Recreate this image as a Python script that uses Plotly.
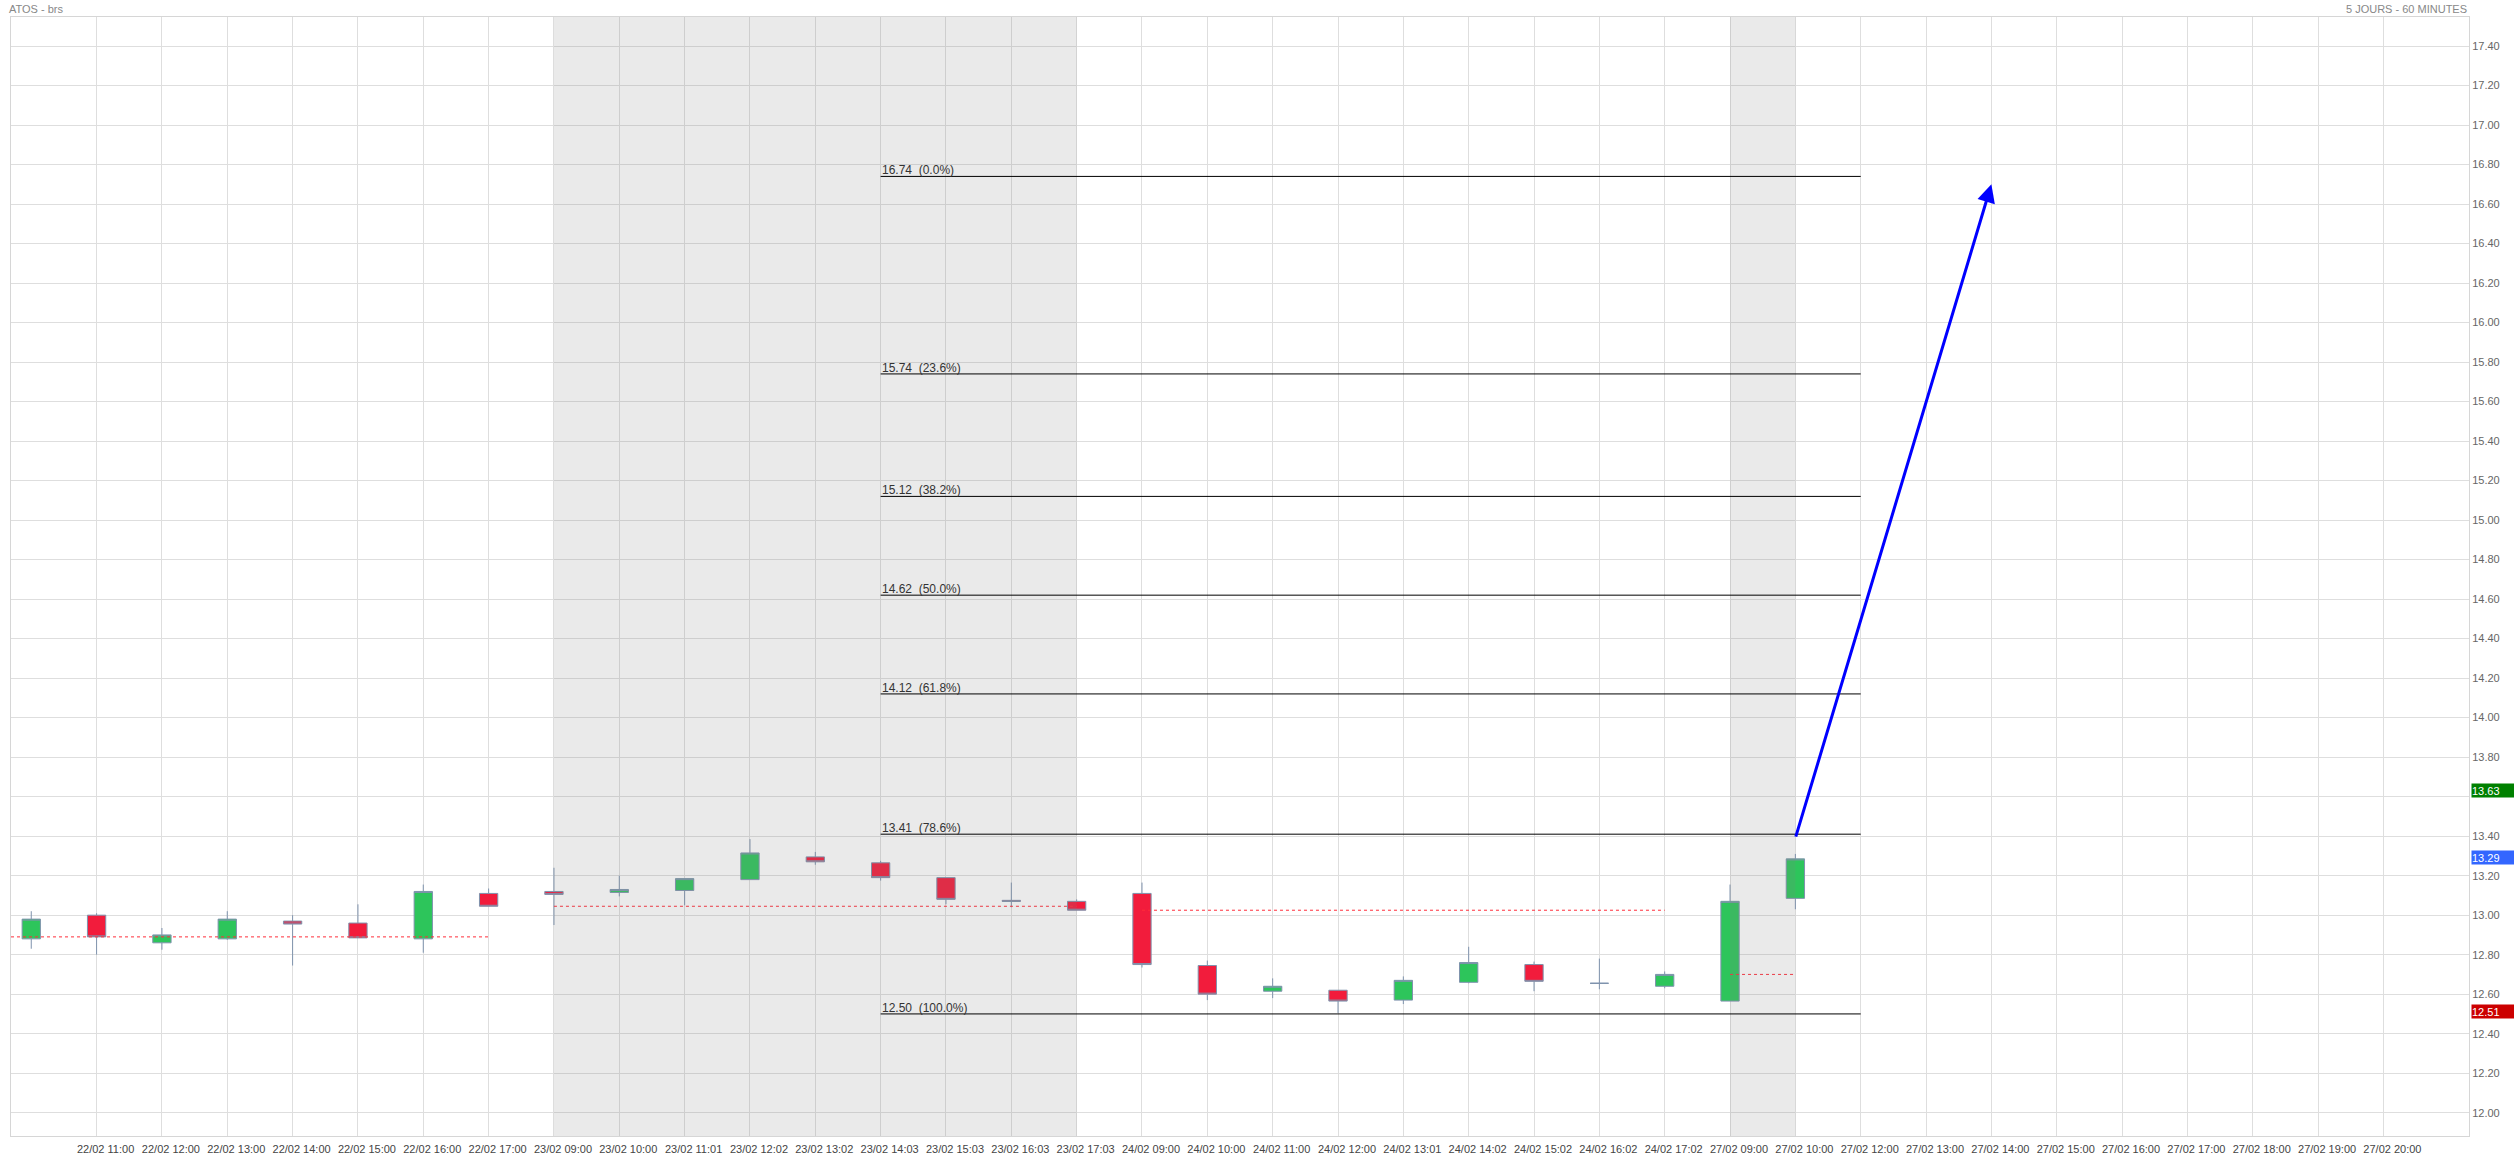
import plotly.graph_objects as go

# ---------------- data ----------------
times = [
    "22/02 10:00", "22/02 11:00", "22/02 12:00", "22/02 13:00", "22/02 14:00", "22/02 15:00",
    "22/02 16:00", "22/02 17:00", "23/02 09:00", "23/02 10:00", "23/02 11:01", "23/02 12:02",
    "23/02 13:02", "23/02 14:03", "23/02 15:03", "23/02 16:03", "23/02 17:03", "24/02 09:00",
    "24/02 10:00", "24/02 11:00", "24/02 12:00", "24/02 13:01", "24/02 14:02", "24/02 15:02",
    "24/02 16:02", "24/02 17:02", "27/02 09:00", "27/02 10:00", "27/02 12:00", "27/02 13:00",
    "27/02 14:00", "27/02 15:00", "27/02 16:00", "27/02 17:00", "27/02 18:00", "27/02 19:00",
    "27/02 20:00",
]
shown_ticks = times[1:]

opens = [12.88, 13.00, 12.86, 12.88, 12.97, 12.96, 12.88, 13.11, 13.12, 13.115, 13.125, 13.18,
         13.295, 13.265, 13.19, 13.075, 13.07, 13.11, 12.745, 12.615, 12.62, 12.57, 12.66, 12.75,
         12.655, 12.64, 12.565, 13.085]
highs = [13.02, 13.01, 12.935, 13.02, 13.00, 13.055, 13.155, 13.135, 13.24, 13.20, 13.185, 13.385,
         13.32, 13.275, 13.19, 13.165, 13.08, 13.165, 12.77, 12.68, 12.62, 12.69, 12.84, 12.765,
         12.78, 12.715, 13.155, 13.31]
lows = [12.83, 12.80, 12.825, 12.875, 12.745, 12.885, 12.81, 13.045, 12.95, 13.095, 13.05, 13.18,
        13.255, 13.175, 13.055, 13.04, 13.025, 12.735, 12.57, 12.58, 12.505, 12.55, 12.655, 12.615,
        12.625, 12.63, 12.565, 13.03]
closes = [12.98, 12.89, 12.90, 12.98, 12.955, 12.885, 13.12, 13.045, 13.105, 13.13, 13.185, 13.315,
          13.27, 13.19, 13.08, 13.07, 13.025, 12.75, 12.60, 12.64, 12.565, 12.67, 12.76, 12.665,
          12.655, 12.70, 13.07, 13.285]

# y-axis ticks (13.60 is hidden behind the 13.63 price tag in the reference)
y_ticks = [12.00, 12.20, 12.40, 12.60, 12.80, 13.00, 13.20, 13.40, 13.60, 13.80, 14.00, 14.20,
           14.40, 14.60, 14.80, 15.00, 15.20, 15.40, 15.60, 15.80, 16.00, 16.20, 16.40, 16.60,
           16.80, 17.00, 17.20, 17.40]
y_tick_text = ["12.00", "12.20", "12.40", "12.60", "12.80", "13.00", "13.20", "13.40", "",
               "13.80", "14.00", "14.20", "14.40", "14.60", "14.80", "15.00", "15.20", "15.40",
               "15.60", "15.80", "16.00", "16.20", "16.40", "16.60", "16.80", "17.00", "17.20",
               "17.40"]

# previous-session reference lines (dashed red)
ref_values = [12.89, 13.045, 13.025, 12.70]
ref_starts = [None, "23/02 09:00", "24/02 09:00", "27/02 09:00"]
ref_ends = ["22/02 17:00", "23/02 17:03", "24/02 17:02", "27/02 10:00"]

# shaded sessions
shade_starts = ["23/02 09:00", "27/02 09:00"]
shade_ends = ["23/02 17:03", "27/02 10:00"]

# Fibonacci retracement
fib_levels = [16.74, 15.74, 15.12, 14.62, 14.12, 13.41, 12.50]
fib_pcts = ["0.0%", "23.6%", "38.2%", "50.0%", "61.8%", "78.6%", "100.0%"]
fib_from = "23/02 14:03"
fib_to = "27/02 12:00"

# target arrow
arrow_from = ("27/02 10:00", 13.39)
arrow_to = ("27/02 14:00", 16.70)

# right-side price tags
tag_values = [13.63, 13.29, 12.51]
tag_colors = ["#008000", "#3366ff", "#cc0000"]

title_left = "ATOS - brs"
title_right = "5 JOURS - 60 MINUTES"

X_RANGE = [-0.31, 37.31]
Y_RANGE = [11.882, 17.547]

# ---------------- figure ----------------
pos = {t: i for i, t in enumerate(times)}
cx = [pos[t] for t in times[:len(opens)]]

FONT = "Liberation Sans, Arial, sans-serif"

fig = go.Figure()
fig.add_trace(go.Candlestick(
    x=cx, open=opens, high=highs, low=lows, close=closes,
    increasing=dict(fillcolor="#2dc55b", line=dict(color="#7f93ad", width=1)),
    decreasing=dict(fillcolor="#f21c3c", line=dict(color="#7f93ad", width=1)),
    whiskerwidth=0, showlegend=False, hoverinfo="skip",
))

for val, s, e in zip(ref_values, ref_starts, ref_ends):
    x0 = X_RANGE[0] if s is None else pos[s]
    fig.add_trace(go.Scatter(
        x=[x0, pos[e]], y=[val, val], mode="lines",
        line=dict(color="#ff2d3a", width=1, dash="3px,3px"),
        hoverinfo="skip", showlegend=False,
    ))

shapes = []
for s, e in zip(shade_starts, shade_ends):
    shapes.append(dict(type="rect", xref="x", yref="paper", x0=pos[s], x1=pos[e], y0=0, y1=1,
                       fillcolor="rgba(128,128,128,0.17)", line=dict(width=0), layer="above"))
for lv in fib_levels:
    shapes.append(dict(type="line", xref="x", yref="y", x0=pos[fib_from], x1=pos[fib_to],
                       y0=lv, y1=lv, line=dict(color="#000000", width=1), layer="above"))

annotations = []
for lv, pc in zip(fib_levels, fib_pcts):
    annotations.append(dict(
        x=pos[fib_from], y=lv, xref="x", yref="y", xanchor="left", yanchor="bottom",
        text=f"{lv:.2f}\u00a0 ({pc})", showarrow=False, borderpad=0, yshift=-2,
        font=dict(family=FONT, size=12, color="#333333"),
    ))

annotations.append(dict(
    x=pos[arrow_to[0]], y=arrow_to[1], ax=pos[arrow_from[0]], ay=arrow_from[1],
    xref="x", yref="y", axref="x", ayref="y", showarrow=True, text="",
    arrowhead=2, arrowsize=1.2, arrowwidth=3, arrowcolor="#0000ff",
))

for v, c in zip(tag_values, tag_colors):
    annotations.append(dict(
        x=1, y=v, xref="paper", yref="y", xanchor="left", yanchor="middle", xshift=2,
        text=f"{v:.2f}", showarrow=False, bgcolor=c, width=43, height=13, align="left",
        borderpad=0, font=dict(family=FONT, size=11, color="#ffffff"),
    ))

annotations.append(dict(
    x=0, y=1, xref="paper", yref="paper", xanchor="left", yanchor="bottom", xshift=-4,
    text=title_left, showarrow=False, font=dict(family=FONT, size=11, color="#888888"),
))
annotations.append(dict(
    x=1, y=1, xref="paper", yref="paper", xanchor="right", yanchor="bottom",
    text=title_right, showarrow=False, font=dict(family=FONT, size=11, color="#888888"),
))

fig.update_layout(
    width=2514, height=1160,
    margin=dict(l=11, r=45, t=17, b=24),
    paper_bgcolor="#ffffff", plot_bgcolor="#ffffff",
    boxgap=0.72, boxgroupgap=0,
    shapes=shapes, annotations=annotations,
    showlegend=False,
)
fig.update_xaxes(
    range=X_RANGE, tickmode="array",
    tickvals=[pos[t] for t in shown_ticks], ticktext=shown_ticks,
    showgrid=True, gridcolor="#dedede", gridwidth=1, zeroline=False,
    showline=True, mirror=True, linecolor="#d6d6d6", linewidth=1,
    ticks="", ticklabelshift=9, ticklabelstandoff=3,
    tickfont=dict(family=FONT, size=11, color="#444444"),
    rangeslider=dict(visible=False), automargin=False, fixedrange=True,
)
fig.update_yaxes(
    side="right", range=Y_RANGE, tickmode="array", tickvals=y_ticks, ticktext=y_tick_text,
    showgrid=True, gridcolor="#dedede", gridwidth=1, zeroline=False,
    showline=True, mirror=True, linecolor="#d6d6d6", linewidth=1,
    ticks="", tickfont=dict(family=FONT, size=11, color="#666666"),
    automargin=False, fixedrange=True,
)

fig.write_html(
    "out.html",
    config={"displayModeBar": False},
    post_script="document.body.style.margin='0';document.body.style.overflow='hidden';",
)
